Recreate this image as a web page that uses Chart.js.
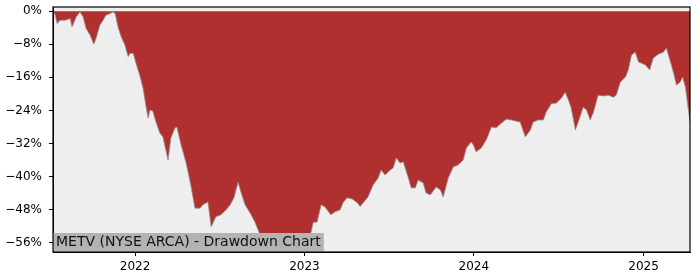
<!DOCTYPE html>
<html>
<head>
<meta charset="utf-8">
<script src="https://cdn.jsdelivr.net/npm/chart.js@4/dist/chart.umd.min.js"></script>
<style>
  body { margin: 0; background: #fff; }
  #wrap { width: 700px; height: 280px; }
</style>
</head>
<body>
<div id="wrap"><canvas id="myChart" width="700" height="280"></canvas></div>
<script>
// dates and drawdown (%)
var dates = [
  '2021-07-08','2021-07-12','2021-07-17','2021-07-23','2021-08-03','2021-08-14','2021-08-18','2021-08-27',
  '2021-09-04','2021-09-11','2021-09-17','2021-09-26','2021-10-04','2021-10-09','2021-10-17','2021-10-24',
  '2021-10-30','2021-11-08','2021-11-14','2021-11-19','2021-11-25','2021-12-02','2021-12-10','2021-12-17',
  '2021-12-21','2021-12-28','2022-01-03','2022-01-11','2022-01-18','2022-01-24','2022-01-29','2022-02-02',
  '2022-02-08','2022-02-15','2022-02-23','2022-03-02','2022-03-13','2022-03-19','2022-03-28','2022-04-01',
  '2022-04-10','2022-04-21','2022-05-01','2022-05-10','2022-05-21','2022-05-27','2022-06-07','2022-06-14',
  '2022-06-24','2022-07-05','2022-07-16','2022-07-25','2022-08-02','2022-08-11','2022-08-17','2022-08-26',
  '2022-09-06','2022-09-16','2022-09-27','2022-10-08','2022-10-19','2022-10-30','2022-11-09','2022-11-20',
  '2022-12-01','2022-12-12','2022-12-23','2022-12-29','2023-01-05','2023-01-13','2023-01-20','2023-01-28',
  '2023-02-06','2023-02-14','2023-02-27','2023-03-08','2023-03-19','2023-03-25','2023-04-03','2023-04-14',
  '2023-04-25','2023-05-01','2023-05-10','2023-05-18','2023-05-29','2023-06-09','2023-06-15','2023-06-24',
  '2023-07-05','2023-07-11','2023-07-18','2023-07-26','2023-08-02','2023-08-13','2023-08-19','2023-08-28',
  '2023-09-03','2023-09-14','2023-09-20','2023-09-29','2023-10-12','2023-10-21','2023-10-27','2023-11-07',
  '2023-11-18','2023-11-28','2023-12-09','2023-12-16','2023-12-26','2023-12-31','2024-01-06','2024-01-17',
  '2024-01-28','2024-02-08','2024-02-18','2024-03-01','2024-03-11','2024-03-22','2024-04-02','2024-04-10',
  '2024-04-21','2024-05-02','2024-05-08','2024-05-19','2024-05-30','2024-06-05','2024-06-16','2024-06-27',
  '2024-07-08','2024-07-16','2024-07-23','2024-07-29','2024-08-07','2024-08-13','2024-08-24','2024-08-31',
  '2024-09-08','2024-09-15','2024-09-25','2024-10-06','2024-10-17','2024-10-28','2024-11-03','2024-11-12',
  '2024-11-23','2024-11-29','2024-12-06','2024-12-14','2024-12-21','2024-12-28','2025-01-05','2025-01-14',
  '2025-01-22','2025-02-02','2025-02-13','2025-02-19','2025-02-28','2025-03-06','2025-03-13','2025-03-21',
  '2025-03-26','2025-04-01','2025-04-11'
];
var drawdown = [
  -0.3, -0.6, -3.0, -2.2, -2.2, -1.8, -3.8, -1.4,
  -0.2, -1.4, -4.1, -5.8, -8.0, -6.5, -3.4, -2.2,
  -1.0, -0.6, -0.2, -0.6, -3.8, -6.2, -8.2, -11.0,
  -10.2, -10.2, -12.6, -15.5, -18.6, -22.7, -25.8, -23.9,
  -24.1, -26.8, -29.4, -30.4, -36.0, -30.7, -28.2, -28.0,
  -32.3, -36.7, -42.0, -47.6, -47.6, -46.8, -46.1, -52.1,
  -49.7, -49.2, -48.0, -46.8, -45.1, -41.3, -43.7, -46.8,
  -48.8, -50.9, -54.0, -56.0, -57.0, -56.0, -57.0, -56.3,
  -57.0, -56.0, -57.3, -57.2, -56.0, -54.5, -51.0, -51.0,
  -46.8, -47.3, -49.2, -48.5, -48.0, -46.3, -45.1, -45.4,
  -46.3, -47.2, -46.0, -44.9, -42.0, -40.3, -38.4, -39.6,
  -38.4, -37.9, -35.5, -36.7, -36.4, -40.3, -42.7, -42.7,
  -40.8, -41.5, -43.9, -44.4, -42.5, -43.2, -44.9, -40.3,
  -37.6, -37.2, -36.0, -33.1, -31.6, -32.3, -34.0, -33.1,
  -31.1, -28.0, -28.2, -27.0, -26.1, -26.3, -26.6, -26.8,
  -30.4, -28.7, -26.8, -26.3, -26.3, -24.4, -22.4, -22.2,
  -21.0, -19.6, -21.5, -23.4, -28.7, -26.8, -23.2, -23.9,
  -26.3, -24.4, -20.3, -20.5, -20.3, -20.8, -20.3, -17.1,
  -15.9, -14.2, -10.6, -9.9, -12.3, -12.6, -13.0, -14.2,
  -11.3, -10.4, -9.9, -8.9, -12.3, -14.7, -17.9, -17.1,
  -15.9, -18.3, -26.8
];
var yTicks = [0, -8, -16, -24, -32, -40, -48, -56];
var xTickYears = [2022, 2023, 2024, 2025];
var titleText = 'METV (NYSE ARCA) - Drawdown Chart';

var points = dates.map(function (d, i) { return {x: Date.parse(d), y: drawdown[i]}; });

var frame = {
  id: 'frame',
  beforeDraw: function (chart) {
    var a = chart.chartArea, c = chart.ctx;
    c.save();
    c.fillStyle = '#eeeeee';
    c.fillRect(a.left, a.top, a.right - a.left, a.bottom - a.top);
    c.restore();
  },
  afterDraw: function (chart) {
    var a = chart.chartArea, c = chart.ctx;
    c.save();
    // label box in the lower left corner
    c.font = '14px "DejaVu Sans"';
    var w = c.measureText(titleText).width;
    c.fillStyle = '#b3b3b3';
    c.fillRect(a.left, a.bottom - 19, w + 6, 18);
    c.fillStyle = '#111';
    c.textBaseline = 'middle';
    c.fillText(titleText, a.left + 3, a.bottom - 10);
    // spines
    c.strokeStyle = '#000';
    c.lineWidth = 1.2;
    c.strokeRect(a.left, a.top, a.right - a.left, a.bottom - a.top);
    c.restore();
  }
};

var ctx = document.getElementById('myChart').getContext('2d');
var myChart = new Chart(ctx, {
  type: 'line',
  data: {
    datasets: [{
      data: points,
      borderColor: '#9a8a8a',
      borderWidth: 0.8,
      backgroundColor: '#b03030',
      fill: 'origin',
      pointRadius: 0,
      tension: 0
    }]
  },
  options: {
    responsive: false,
    animation: false,
    layout: { padding: { top: 7, right: 10, left: 0, bottom: 0 } },
    plugins: { legend: { display: false }, tooltip: { enabled: false } },
    scales: {
      x: {
        type: 'linear',
        min: points[0].x,
        max: points[points.length - 1].x,
        afterBuildTicks: function (s) {
          s.ticks = xTickYears.map(function (y) { return {value: Date.UTC(y, 0, 1)}; });
        },
        afterFit: function (s) { s.height = 28; s.paddingLeft = 0; s.paddingRight = 0; },
        grid: { drawOnChartArea: false, tickLength: 4, tickColor: '#000' },
        border: { color: '#000', width: 1 },
        ticks: {
          color: '#000',
          font: { family: 'DejaVu Sans', size: 12 },
          padding: 4,
          maxRotation: 0,
          callback: function (v) { return String(new Date(v).getUTCFullYear()); }
        }
      },
      y: {
        min: -58.2,
        max: 1,
        afterBuildTicks: function (s) {
          s.ticks = yTicks.map(function (v) { return {value: v}; });
        },
        afterFit: function (s) { s.width = 53; s.paddingTop = 0; s.paddingBottom = 0; },
        grid: { drawOnChartArea: false, tickLength: 4, tickColor: '#000' },
        border: { color: '#000', width: 1 },
        ticks: {
          color: '#000',
          font: { family: 'DejaVu Sans', size: 12 },
          padding: 7,
          callback: function (v) { return (v < 0 ? '\u2212' + (-v) : v) + '%'; }
        }
      }
    }
  },
  plugins: [frame]
});
</script>
</body>
</html>
